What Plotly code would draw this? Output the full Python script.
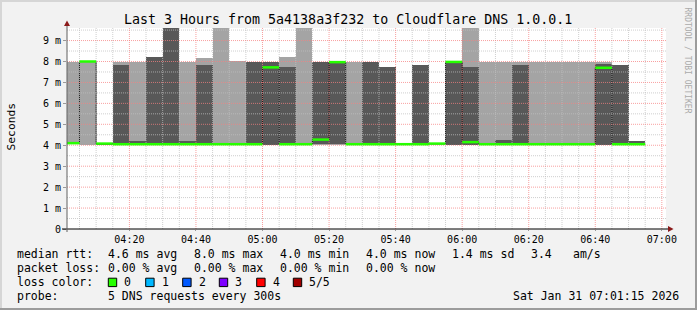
import plotly.graph_objects as go
import pandas as pd

# ---------------- data (ms), one entry per 5-minute step ----------------
slot_start = pd.date_range("2026-01-31 04:00", periods=36, freq="5min")
# sorted pings of each step: p1 (min) .. p5 (max), p3 = median
p1 = [4.10, 4.00, 4.05, 4.00, 4.00, 4.00, 4.00, 4.00, 4.00, 4.00, 4.00, 4.00,
      4.00, 4.00, 4.00, 4.00, 4.00, 4.00, 4.00, 4.00, 4.04, 4.00, 4.05, 4.00,
      4.00, 4.00, 4.00, 4.00, 4.00, 4.00, 4.00, 4.00, 4.00, 4.00, 4.00, None]
p2 = [4.10, 8.00, 4.05, 4.05, 4.04, 4.05, 4.05, 4.04, 4.05, 4.05, 4.05, 4.05,
      4.00, 4.05, 4.05, 4.05, 4.05, 4.05, 4.05, 4.05, 4.05, 4.05, 4.07, 4.00,
      4.00, 4.05, 4.05, 4.05, 4.05, 4.05, 4.05, 4.05, 4.00, 4.05, 4.05, None]
p3 = [4.10, 8.00, 4.08, 4.05, 4.05, 4.05, 4.05, 4.05, 4.05, 4.05, 4.05, 4.05,
      7.72, 4.05, 4.05, 4.27, 7.97, 4.05, 4.05, 4.05, 4.05, 4.05, 4.08, 7.98,
      4.15, 4.05, 4.05, 4.05, 4.05, 4.05, 4.05, 4.05, 7.70, 4.05, 4.05, None]
p4 = [4.10, 8.00, 4.08, 7.83, 4.20, 8.20, 10.5, 4.20, 7.83, 4.08, 4.13, 7.98,
      7.97, 7.75, 4.13, 7.98, 7.97, 4.05, 7.98, 7.75, 4.10, 7.83, 4.08, 7.98,
      7.75, 4.05, 4.25, 7.83, 4.05, 4.05, 4.05, 4.05, 7.87, 7.83, 4.20, None]
p5 = [8.00, 8.00, 4.08, 8.00, 8.00, 8.20, 10.5, 8.00, 8.16, 10.5, 8.02, 7.98,
      8.00, 8.20, 10.5, 7.98, 7.97, 7.98, 7.98, 7.75, 4.10, 7.83, 4.08, 7.98,
      10.5, 7.98, 7.98, 7.98, 7.98, 7.98, 7.98, 7.98, 7.98, 7.83, 4.20, None]

y_tick_vals = [0, 1, 2, 3, 4, 5, 6, 7, 8, 9]
y_tick_text = ["0", "1 m", "2 m", "3 m", "4 m", "5 m", "6 m", "7 m", "8 m", "9 m"]
y_minor_vals = [0.5, 1.5, 2.5, 3.5, 4.5, 5.5, 6.5, 7.5, 8.5, 9.5]
x_range = ["2026-01-31 04:01:15", "2026-01-31 07:01:15"]
y_range = [0, 9.6]

title = "Last 3 Hours from 5a4138a3f232 to Cloudflare DNS 1.0.0.1"
legend_rows = [
    [(16, "median rtt:"), (107.3, "4.6 ms avg"), (193.3, "8.0 ms max"), (279, "4.0 ms min"),
     (365, "4.0 ms now"), (451, "1.4 ms sd"), (530, "3.4"), (572.3, "am/s")],
    [(16, "packet loss:"), (107.3, "0.00 % avg"), (193.3, "0.00 % max"), (279, "0.00 % min"),
     (365, "0.00 % now")],
    [(16, "loss color:")],
    [(16, "probe:"), (107.3, "5 DNS requests every 300s")],
]
loss_labels = ["0", "1", "2", "3", "4", "5/5"]
loss_colors = ["#26ff00", "#00b8ff", "#0059ff", "#7e00ff", "#ff0000", "#a10000"]
stamp = "Sat Jan 31 07:01:15 2026"

# ---------------- geometry ----------------
W, H = 697, 310
L, R, T, B = 67, 31, 28, 81
PW, PH = W - L - R, H - T - B
def fx(x): return (x - L) / PW
def fy(y): return (H - B - y) / PH

MONO = "DejaVu Sans Mono"
step = pd.Timedelta("5min")
centers = [s + step / 2 for s in slot_start]
width_ms = step.total_seconds() * 1000

light_base = [a for a in p1]
light_h = [(b - a) if a is not None else None for a, b in zip(p1, p5)]
dark_base = [a for a in p2]
dark_h = [(b - a) if a is not None else None for a, b in zip(p2, p4)]

fig = go.Figure()
fig.add_trace(go.Bar(x=centers, y=light_h, base=light_base, width=width_ms,
                     marker=dict(color="#a4a4a4", line=dict(width=0)), hoverinfo="skip"))
fig.add_trace(go.Bar(x=centers, y=dark_h, base=dark_base, width=width_ms,
                     marker=dict(color="#585858", line=dict(width=0)), hoverinfo="skip"))

# dark median step line
valid = [i for i, v in enumerate(p3) if v is not None]
sx = [slot_start[i] for i in valid] + [slot_start[valid[-1]] + step]
sy = [p3[i] for i in valid] + [p3[valid[-1]]]
fig.add_trace(go.Scatter(x=sx, y=sy, mode="lines", line=dict(color="#202020", width=1, shape="hv"),
                         hoverinfo="skip"))

# grid lines on top of the smoke (as rrdtool does)
t0 = pd.Timestamp(x_range[0]); t1 = pd.Timestamp(x_range[1])
ticks5 = [t for t in pd.date_range("2026-01-31 04:05", "2026-01-31 07:00", freq="5min")]
major_t = [t for t in ticks5 if t.minute % 20 == 0]
minor_t = [t for t in ticks5 if t.minute % 20 != 0]
def vlines(ts):
    xs, ys = [], []
    for t in ts:
        xs += [t, t, None]; ys += [y_range[0], y_range[1], None]
    return xs, ys
def hlines(vs):
    xs, ys = [], []
    for v in vs:
        xs += [t0, t1, None]; ys += [v, v, None]
    return xs, ys
gx, gy = vlines(minor_t); hx, hy = hlines(y_minor_vals)
fig.add_trace(go.Scatter(x=gx + hx, y=gy + hy, mode="lines",
                         line=dict(color="rgba(191,191,191,0.75)", width=1, dash="1px,1px"),
                         hoverinfo="skip"))
gx, gy = vlines(major_t); hx, hy = hlines(y_tick_vals[1:])
fig.add_trace(go.Scatter(x=gx + hx, y=gy + hy, mode="lines",
                         line=dict(color="rgba(245,128,128,0.75)", width=1, dash="1px,1px"),
                         hoverinfo="skip"))

# green median segments (loss 0)
mx, my = [], []
for i in valid:
    mx += [slot_start[i], slot_start[i] + step, None]
    my += [p3[i], p3[i], None]
fig.add_trace(go.Scatter(x=mx, y=my, mode="lines", line=dict(color=loss_colors[0], width=2.5),
                         hoverinfo="skip"))

shapes = []
# 3D frame
shapes.append(dict(type="rect", xref="paper", yref="paper", x0=fx(0), x1=fx(W), y0=fy(0), y1=fy(2),
                   fillcolor="#d6d6d6", line=dict(width=0), layer="above"))
shapes.append(dict(type="rect", xref="paper", yref="paper", x0=fx(0), x1=fx(2), y0=fy(0), y1=fy(H),
                   fillcolor="#d6d6d6", line=dict(width=0), layer="above"))
shapes.append(dict(type="rect", xref="paper", yref="paper", x0=fx(0), x1=fx(W), y0=fy(H - 2), y1=fy(H),
                   fillcolor="#9c9c9c", line=dict(width=0), layer="above"))
shapes.append(dict(type="rect", xref="paper", yref="paper", x0=fx(W - 2), x1=fx(W), y0=fy(0), y1=fy(H),
                   fillcolor="#9c9c9c", line=dict(width=0), layer="above"))
# axes
shapes.append(dict(type="line", xref="paper", yref="paper", x0=fx(62), x1=fx(669), y0=0, y1=0,
                   line=dict(color="#000000", width=1.2), layer="above"))
shapes.append(dict(type="line", xref="paper", yref="paper", x0=0, x1=0, y0=fy(H - B + 3), y1=fy(24),
                   line=dict(color="#606060", width=1), layer="above"))
# arrows
shapes.append(dict(type="path", xref="paper", yref="paper",
                   path=f"M {fx(64)},{fy(26)} L {fx(70)},{fy(26)} L {fx(67)},{fy(20.5)} Z",
                   fillcolor="#8b1a1a", line=dict(width=0), layer="above"))
shapes.append(dict(type="path", xref="paper", yref="paper",
                   path=f"M {fx(668)},{fy(226)} L {fx(668)},{fy(232)} L {fx(673.5)},{fy(229)} Z",
                   fillcolor="#8b1a1a", line=dict(width=0), layer="above"))

annotations = []
annotations.append(dict(text=title, x=fx(347.5), y=fy(19), xref="paper", yref="paper",
                        xanchor="center", yanchor="middle", borderpad=0,
                        showarrow=False, font=dict(family=MONO, size=13.3, color="#000000")))
annotations.append(dict(text="Seconds", x=fx(10.5), y=fy(127), xref="paper", yref="paper",
                        xanchor="center", yanchor="middle", borderpad=0,
                        showarrow=False, textangle=-90, font=dict(family=MONO, size=11.3, color="#000000")))
annotations.append(dict(text="RRDTOOL / TOBI OETIKER", x=fx(687.5), y=fy(60), xref="paper", yref="paper",
                        xanchor="center", yanchor="middle", borderpad=0,
                        showarrow=False, textangle=90, font=dict(family=MONO, size=8, color="#aaaaaa")))
row_y = [254.3, 268.3, 282.3, 296]
for ry, row in zip(row_y, legend_rows):
    for xpos, txt in row:
        annotations.append(dict(text=txt, x=fx(xpos), y=fy(ry), xref="paper", yref="paper",
                                xanchor="left", yanchor="middle", showarrow=False, borderpad=0,
                                font=dict(family=MONO, size=11.5, color="#000000")))
box_x = [108.3, 145.7, 182.7, 219.3, 256.7, 293.3]
lab_x = [123.3, 161, 197.7, 234.3, 271.7, 308.3]
for bx, lx, lab, col in zip(box_x, lab_x, loss_labels, loss_colors):
    shapes.append(dict(type="rect", xref="paper", yref="paper", x0=fx(bx), x1=fx(bx + 8.4),
                       y0=fy(278.2), y1=fy(286.6), fillcolor=col, line=dict(color="#000000", width=1),
                       layer="above"))
    annotations.append(dict(text=lab, x=fx(lx), y=fy(row_y[2]), xref="paper", yref="paper",
                            xanchor="left", yanchor="middle", showarrow=False, borderpad=0,
                            font=dict(family=MONO, size=11.5, color="#000000")))
annotations.append(dict(text=stamp, x=fx(680), y=fy(296), xref="paper", yref="paper",
                        xanchor="right", yanchor="middle", showarrow=False, borderpad=0,
                        font=dict(family=MONO, size=11.5, color="#000000")))

fig.update_layout(
    width=W, height=H, margin=dict(l=L, r=R, t=T, b=B, autoexpand=False),
    paper_bgcolor="#f2f2f2", plot_bgcolor="#ffffff",
    barmode="overlay", bargap=0, showlegend=False,
    shapes=shapes, annotations=annotations,
    xaxis=dict(type="date", range=x_range, showgrid=False, zeroline=False, showline=False,
               tickformat="%H:%M", dtick=20 * 60 * 1000, tick0="2026-01-31 04:00",
               ticks="outside", ticklen=1, tickcolor="#999999",
               tickfont=dict(family=MONO, size=10, color="#000000"), fixedrange=True),
    yaxis=dict(range=y_range, showgrid=False, zeroline=False, showline=False,
               tickvals=y_tick_vals, ticktext=y_tick_text,
               ticks="outside", ticklen=3, tickcolor="#999999",
               tickfont=dict(family=MONO, size=10, color="#000000"), fixedrange=True),
)
fig.write_html("out.html", config={"displayModeBar": False})
